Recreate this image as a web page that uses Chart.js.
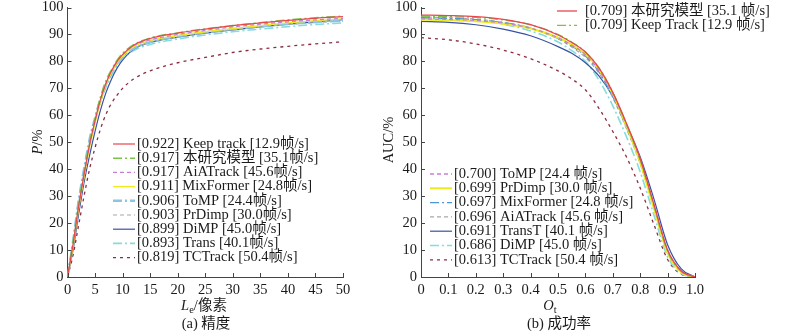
<!DOCTYPE html>
<html>
<head>
<meta charset="utf-8">
<script src="https://cdn.jsdelivr.net/npm/chart.js@4.4.0/dist/chart.umd.min.js"></script>
<style>
html, body { margin: 0; padding: 0; background: #fff; overflow: hidden; }
#wrap { position: relative; width: 800px; height: 331px; }
canvas { position: absolute; top: 0; }
</style>
</head>
<body>
<div id="wrap">
   <canvas id="precision" width="400" height="331" style="left:0"></canvas>
   <canvas id="success" width="440" height="331" style="left:360px"></canvas>
</div>
<script>
// (a) 精度 — 横轴 L_e
const precX = [0, 1, 2, 3, 4, 5, 6, 7, 8, 9, 10, 12, 15, 20, 25, 30, 35, 40, 45, 50];
const precKeepTrack = [0, 12, 26, 38, 49, 58, 66, 72, 76.5, 80, 82.5, 86, 88.5, 90.5, 92, 93.3, 94.3, 95.2, 96, 96.6];
const precOurs      = [0, 13, 27, 39, 50, 59, 67, 73, 77, 80.5, 83, 86.2, 88.7, 90.6, 92.1, 93.3, 94.4, 95.4, 96.2, 96.8];
const precAiATrack  = [0, 12, 26, 38, 49, 58, 66, 72, 76.5, 80, 82.5, 85.8, 88, 90, 91.5, 92.8, 93.8, 94.7, 95.4, 96];
const precMixFormer = [0, 11, 25, 37, 48, 57, 65, 71.5, 76, 79.5, 82, 85.5, 87.8, 89.6, 91, 92.2, 93.3, 94.3, 95.1, 95.8];
const precToMP      = [0, 13, 28, 40, 51, 59, 66, 71.5, 75.5, 79, 81.5, 84.8, 87.2, 89.3, 90.8, 92, 93, 93.9, 94.6, 95.2];
const precPrDimp    = [0, 12, 27, 39, 50, 58, 65, 71, 75.5, 79, 81.5, 84.8, 87, 89, 90.5, 91.8, 92.8, 93.7, 94.4, 95];
const precDiMP      = [0, 10, 23, 35, 45, 54, 62, 68.5, 73.5, 77.5, 80.5, 84.5, 87, 89, 90.5, 91.7, 92.8, 93.8, 94.7, 95.5];
const precTrans     = [0, 13, 28, 40, 50, 58, 65, 70.5, 75, 78.5, 81, 84, 86.3, 88.3, 89.8, 91, 92, 92.9, 93.7, 94.3];
const precTCTrack   = [0, 8, 19, 30, 40, 48, 55, 60.5, 64.5, 67.5, 70, 73.5, 76.5, 79.5, 81.5, 83.3, 84.6, 85.6, 86.5, 87.3];
const precLabels = [
   '[0.922] Keep track [12.9帧/s]',
   '[0.917] 本研究模型 [35.1帧/s]',
   '[0.917] AiATrack [45.6帧/s]',
   '[0.911] MixFormer [24.8帧/s]',
   '[0.906] ToMP [24.4帧/s]',
   '[0.903] PrDimp [30.0帧/s]',
   '[0.899] DiMP [45.0帧/s]',
   '[0.893] Trans [40.1帧/s]',
   '[0.819] TCTrack [50.4帧/s]'
];
const precTicksX = [0, 5, 10, 15, 20, 25, 30, 35, 40, 45, 50];

// (b) 成功率 — 横轴 O_t
const succX = [0, 0.1, 0.2, 0.3, 0.4, 0.5, 0.55, 0.6, 0.65, 0.7, 0.75, 0.8, 0.85, 0.9, 0.95, 1.0];
const succOurs      = [97.2, 97, 96.6, 95.6, 93.6, 89.8, 87, 83.5, 77.5, 68.5, 57, 44, 27, 10, 2.2, 0];
const succKeepTrack = [96.8, 96.6, 96.3, 95.4, 93.6, 90, 87.2, 83.5, 77.5, 68.5, 56.5, 43.5, 26.5, 9.5, 2, 0];
const succToMP      = [95.8, 95.6, 95.2, 94.2, 92.3, 88.8, 86, 82.5, 76.5, 68, 56.5, 43.5, 27, 10, 2.3, 0];
const succPrDimp    = [95.5, 95.3, 94.9, 94, 92.2, 88.8, 86.2, 82.7, 77, 68, 56, 42.5, 25.5, 9, 1.8, 0];
const succMixFormer = [96.2, 96, 95.5, 94.4, 92.4, 88.5, 85.7, 82, 76, 67, 55.5, 42.5, 26, 9.5, 2.1, 0];
const succAiATrack  = [96.5, 96.2, 95.7, 94.5, 92.3, 88.3, 85.3, 81.5, 75.5, 66.5, 55, 42, 26, 9.5, 2, 0];
const succTransT    = [94.8, 94.5, 93.6, 92, 89.5, 85.5, 83, 79.5, 74.5, 67, 56.5, 44.5, 29, 12, 3, 0];
const succDiMP      = [96, 95.7, 95.1, 93.8, 91.3, 87.2, 84, 80, 73, 63.5, 52, 39, 23, 7.5, 1.3, 0];
const succTCTrack   = [88.8, 88, 86.5, 84.2, 81, 76.5, 73.5, 69.5, 62.5, 54, 44.5, 33, 19.5, 6.5, 1, 0];
const succLabels = [
   '[0.709] 本研究模型 [35.1 帧/s]',
   '[0.709] Keep Track [12.9 帧/s]',
   '[0.700] ToMP [24.4 帧/s]',
   '[0.699] PrDimp [30.0 帧/s]',
   '[0.697] MixFormer [24.8 帧/s]',
   '[0.696] AiATrack [45.6 帧/s]',
   '[0.691] TransT [40.1 帧/s]',
   '[0.686] DiMP [45.0 帧/s]',
   '[0.613] TCTrack [50.4 帧/s]'
];
const succTicksX = [0, 0.1, 0.2, 0.3, 0.4, 0.5, 0.6, 0.7, 0.8, 0.9, 1.0];

const yTicks = [0, 10, 20, 30, 40, 50, 60, 70, 80, 90, 100];

// стили линий
const RED = '#e8474c', GREEN = '#7cc24a', PINK = '#c77fd6', YELLOW = '#eeea1c',
      LBLUE = '#8cc4e6', GRAY = '#a8a8a8', NAVY = '#3853a4', CYAN = '#86dcdc',
      DRED = '#8c2d3e', BLUE = '#4a96d6';
const SOLID = [], DASH = [4, 3], DASHDOT = [9, 3, 2, 3], DOTTED = [3, 4];

const precStyles = [
   { c: RED, d: SOLID, w: 1.2 },
   { c: GREEN, d: DASHDOT, w: 1.4 },
   { c: PINK, d: DASH, w: 1.3 },
   { c: YELLOW, d: SOLID, w: 1.3 },
   { c: LBLUE, d: DASHDOT, w: 2.4 },
   { c: GRAY, d: DASH, w: 1.2 },
   { c: NAVY, d: SOLID, w: 1.2 },
   { c: CYAN, d: DASHDOT, w: 1.6 },
   { c: DRED, d: DOTTED, w: 1.3 }
];
const succStyles = [
   { c: RED, d: SOLID, w: 1.3 },
   { c: GREEN, d: DASHDOT, w: 1.3 },
   { c: PINK, d: DASH, w: 1.3 },
   { c: YELLOW, d: SOLID, w: 2.0 },
   { c: BLUE, d: DASHDOT, w: 1.3 },
   { c: GRAY, d: DASH, w: 1.2 },
   { c: NAVY, d: SOLID, w: 1.2 },
   { c: CYAN, d: DASHDOT, w: 1.6 },
   { c: DRED, d: DOTTED, w: 1.3 }
];

const FAMILY = "'Liberation Serif', 'Times New Roman', 'Noto Sans CJK SC', serif";
const FS = 14.5;
const TXT = '#1a1a1a';

function toPoints(xs, ys) {
   return xs.map((x, i) => ({ x: x, y: ys[i] }));
}

function makeDatasets(xs, series, labels, styles) {
   return series.map((ys, i) => ({
      label: labels[i],
      data: toPoints(xs, ys),
      borderColor: styles[i].c,
      borderDash: styles[i].d,
      borderWidth: styles[i].w,
      pointRadius: 0,
      fill: false,
      cubicInterpolationMode: 'monotone'
   }));
}

function fontOf(r) {
   return (r.italic ? 'italic ' : '') + (r.size || FS) + 'px ' + FAMILY;
}

// текст из кусков (курсив, индекс)
function drawRuns(ctx, runs, x, y) {
   let total = 0;
   runs.forEach(r => { ctx.font = fontOf(r); r.w = ctx.measureText(r.t).width; total += r.w; });
   let cx = x - total / 2;
   runs.forEach(r => {
      ctx.font = fontOf(r);
      ctx.fillText(r.t, cx, y + (r.dy || 0));
      cx += r.w;
   });
}

// внутренние засечки на осях
const innerTicks = {
   id: 'innerTicks',
   afterDraw(chart) {
      const { ctx, chartArea: a, scales: { x, y } } = chart;
      ctx.save();
      ctx.strokeStyle = '#444';
      ctx.lineWidth = 1;
      ctx.beginPath();
      x.ticks.forEach(t => {
         const px = Math.round(x.getPixelForValue(t.value)) + 0.5;
         ctx.moveTo(px, a.bottom); ctx.lineTo(px, a.bottom - 4);
      });
      y.ticks.forEach(t => {
         const py = Math.round(y.getPixelForValue(t.value)) + 0.5;
         ctx.moveTo(a.left, py); ctx.lineTo(a.left + 4, py);
      });
      ctx.stroke();
      ctx.restore();
   }
};

// легенда, разбитая на блоки
const blockLegend = {
   id: 'blockLegend',
   afterDraw(chart, args, opts) {
      const ctx = chart.ctx;
      ctx.save();
      ctx.textBaseline = 'middle';
      ctx.textAlign = 'left';
      opts.blocks.forEach(b => {
         b.items.forEach((idx, k) => {
            const ds = chart.data.datasets[idx];
            const yy = b.y + k * b.step;
            ctx.strokeStyle = ds.borderColor;
            ctx.lineWidth = ds.borderWidth;
            ctx.setLineDash(ds.borderDash);
            ctx.beginPath();
            ctx.moveTo(b.x, yy); ctx.lineTo(b.x + b.len, yy);
            ctx.stroke();
            ctx.setLineDash([]);
            ctx.fillStyle = TXT;
            ctx.font = FS + 'px ' + FAMILY;
            ctx.fillText(ds.label, b.x + b.len + b.gap, yy);
         });
      });
      ctx.restore();
   }
};

// подписи осей
const axisTitles = {
   id: 'axisTitles',
   afterDraw(chart, args, opts) {
      const ctx = chart.ctx;
      ctx.save();
      ctx.fillStyle = TXT;
      ctx.textBaseline = 'alphabetic';
      ctx.textAlign = 'left';
      ctx.save();
      ctx.translate(opts.yTitle.x, opts.yTitle.y);
      ctx.rotate(-Math.PI / 2);
      drawRuns(ctx, opts.yTitle.runs, 0, 5);
      ctx.restore();
      drawRuns(ctx, opts.xTitle.runs, opts.xTitle.x, opts.xTitle.y);
      drawRuns(ctx, opts.caption.runs, opts.caption.x, opts.caption.y);
      ctx.restore();
   }
};

function makeChart(id, datasets, xCfg, layout, legendBlocks, titles) {
   return new Chart(document.getElementById(id), {
      type: 'line',
      data: { datasets: datasets },
      plugins: [innerTicks, blockLegend, axisTitles],
      options: {
         responsive: false,
         animation: false,
         layout: { padding: layout.padding },
         plugins: {
            legend: { display: false },
            tooltip: { enabled: false },
            blockLegend: { blocks: legendBlocks },
            axisTitles: titles
         },
         scales: {
            x: {
               type: 'linear',
               min: xCfg.min, max: xCfg.max,
               afterBuildTicks: s => { s.ticks = xCfg.ticks.map(v => ({ value: v })); },
               grid: { display: false, drawTicks: false },
               border: { display: true, color: '#444', width: 1 },
               ticks: {
                  padding: 4,
                  color: TXT,
                  font: { family: FAMILY, size: FS },
                  maxRotation: 0,
                  autoSkip: false,
                  callback: xCfg.fmt
               },
               afterFit: s => { s.height = layout.xHeight; s.paddingLeft = 0; s.paddingRight = 0; }
            },
            y: {
               min: 0, max: 100,
               afterBuildTicks: s => { s.ticks = yTicks.map(v => ({ value: v })); },
               grid: { display: false, drawTicks: false },
               border: { display: true, color: '#444', width: 1 },
               ticks: {
                  padding: 4,
                  color: TXT,
                  font: { family: FAMILY, size: FS },
                  autoSkip: false
               },
               afterFit: s => { s.width = layout.yWidth; s.paddingTop = 0; s.paddingBottom = 0; }
            }
         }
      }
   });
}

makeChart('precision',
   makeDatasets(precX,
      [precKeepTrack, precOurs, precAiATrack, precMixFormer, precToMP, precPrDimp, precDiMP, precTrans, precTCTrack],
      precLabels, precStyles),
   { min: 0, max: 50, ticks: precTicksX, fmt: v => String(v) },
   { padding: { top: 7.5, right: 57, left: 0, bottom: 0 }, yWidth: 67.5, xHeight: 54 },
   [{ x: 113, y: 144, step: 14.2, len: 22, gap: 2, items: [0, 1, 2, 3, 4, 5, 6, 7, 8] }],
   {
      yTitle: { x: 37, y: 142, runs: [{ t: 'P', italic: true }, { t: '/%' }] },
      xTitle: { x: 204, y: 310, runs: [{ t: 'L', italic: true }, { t: 'e', size: 10.5, dy: 3 }, { t: '/像素' }] },
      caption: { x: 206, y: 328, runs: [{ t: '(a) 精度' }] }
   }
);

makeChart('success',
   makeDatasets(succX,
      [succOurs, succKeepTrack, succToMP, succPrDimp, succMixFormer, succAiATrack, succTransT, succDiMP, succTCTrack],
      succLabels, succStyles),
   { min: 0, max: 1, ticks: succTicksX, fmt: v => (v === 0 ? '0' : v.toFixed(1)) },
   { padding: { top: 7.5, right: 105, left: 0, bottom: 0 }, yWidth: 61, xHeight: 54 },
   [
      { x: 197, y: 11, step: 14.3, len: 20, gap: 8, items: [0, 1] },
      { x: 70, y: 174, step: 14.3, len: 22, gap: 2, items: [2, 3, 4, 5, 6, 7, 8] }
   ],
   {
      yTitle: { x: 28, y: 140, runs: [{ t: 'AUC/%' }] },
      xTitle: { x: 190, y: 310, runs: [{ t: 'O', italic: true }, { t: 't', size: 10.5, dy: 3 }] },
      caption: { x: 199, y: 328, runs: [{ t: '(b) 成功率' }] }
   }
);
</script>
</body>
</html>
